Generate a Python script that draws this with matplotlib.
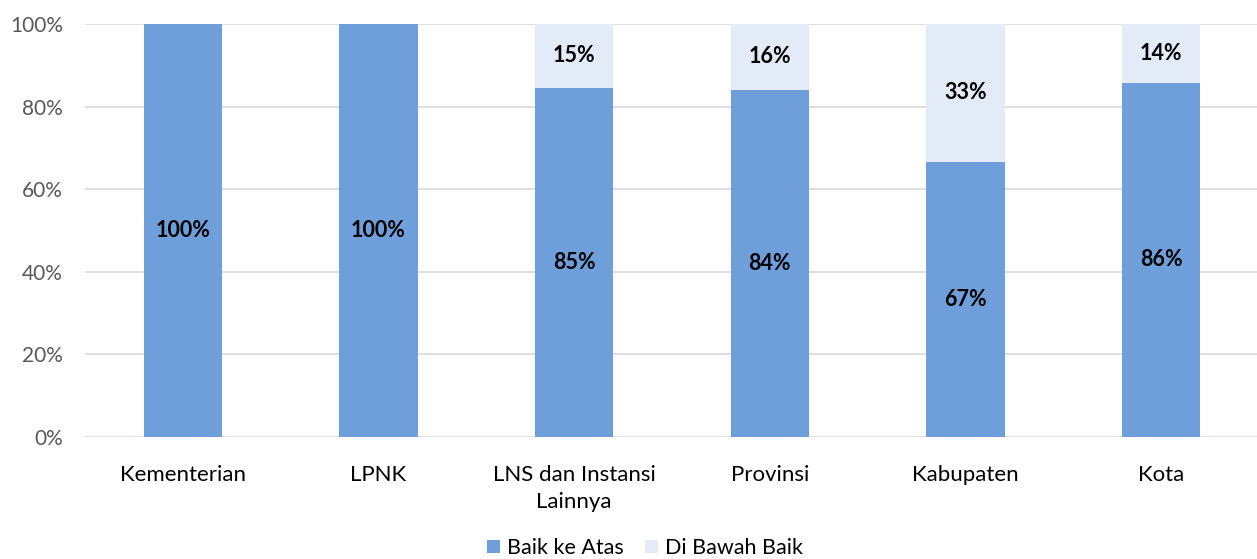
import matplotlib
matplotlib.use("Agg")
import matplotlib.pyplot as plt
import numpy as np

plt.rcParams['font.family'] = ['Lato', 'DejaVu Sans']

categories = ["Kementerian", "LPNK", "LNS dan Instansi\nLainnya", "Provinsi", "Kabupaten", "Kota"]
baik_ke_atas = [100, 100, 84.6, 84.1, 66.6, 85.8]
di_bawah_baik = [0, 0, 15.4, 15.9, 33.4, 14.2]
yticks = [0, 20, 40, 60, 80, 100]

c1 = "#6f9fda"
c2 = "#e3ebf8"

fig = plt.figure(figsize=(12.57, 5.59), dpi=100)
ax = fig.add_axes([85/1257, 1-437/559, (1259-85)/1257, (437-24)/559])

x = np.arange(len(categories))
w = 0.4
b1 = ax.bar(x, baik_ke_atas, w, color=c1, label="Baik ke Atas", zorder=3)
b2 = ax.bar(x, di_bawah_baik, w, bottom=baik_ke_atas, color=c2, label="Di Bawah Baik", zorder=3)

for i in range(len(x)):
    v1 = baik_ke_atas[i]
    ax.text(x[i], v1/2, f"{v1:.0f}%", ha='center', va='center', fontsize=15.5, fontweight='bold', color='black', zorder=4)
    v2 = di_bawah_baik[i]
    if v2 > 0:
        ax.text(x[i], v1 + v2/2, f"{v2:.0f}%", ha='center', va='center', fontsize=15.5, fontweight='bold', color='black', zorder=4)

ax.set_xlim(-0.5, len(x)-0.5)
ax.set_ylim(0, 100)
ax.set_yticks(yticks)
ax.set_yticklabels([f"{t}%" for t in yticks])
ax.yaxis.grid(True, color="#d9d9d9", linewidth=1.2, zorder=0)
ax.set_axisbelow(True)
for s in ax.spines.values():
    s.set_visible(False)
ax.tick_params(axis='y', length=0, labelsize=15, labelcolor="#595959", pad=16)
ax.set_xticks(x)
ax.set_xticklabels(categories, linespacing=1.45)
ax.tick_params(axis='x', length=0, labelsize=16, labelcolor="black", pad=20)

fig.legend(handles=[b1, b2], loc='center', bbox_to_anchor=(645/1257, 1-548/559), ncol=2, frameon=False,
           fontsize=15.5, handlelength=0.6, handleheight=0.6, handletextpad=0.3, columnspacing=1.0)

fig.savefig("out.png", dpi=100)
